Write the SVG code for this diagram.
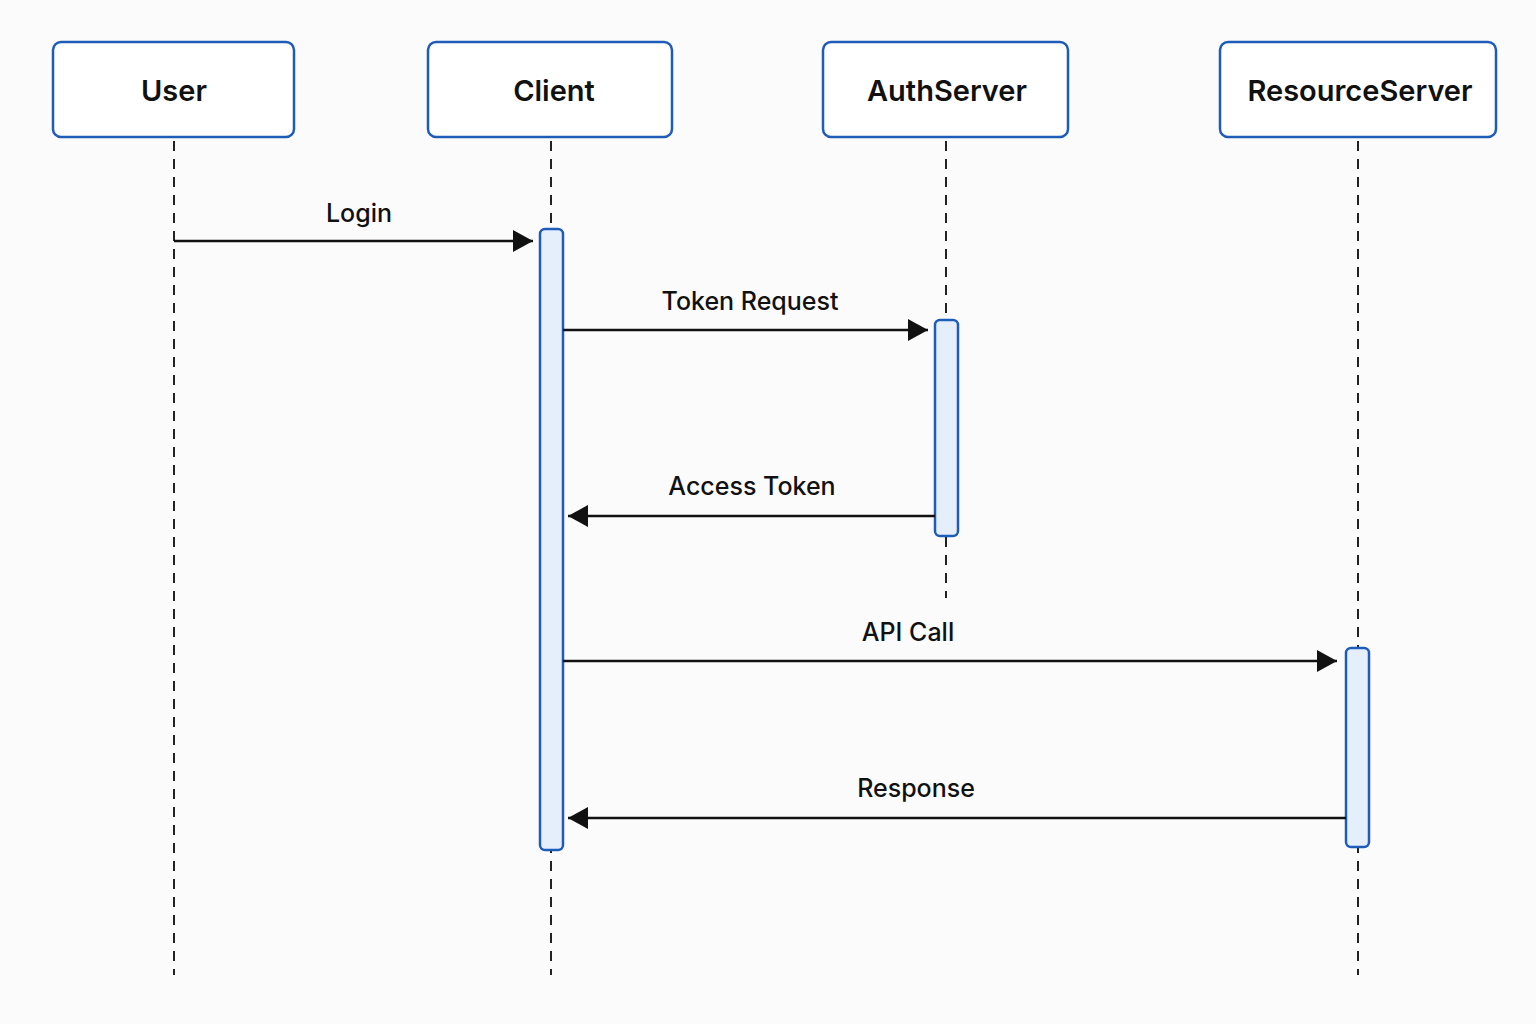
<svg xmlns="http://www.w3.org/2000/svg" width="1536" height="1024" viewBox="0 0 1536 1024">
<style>
.box{fill:#ffffff;stroke:#1f5bb8;stroke-width:2.5}
.act{fill:#e5effc;stroke:#1f5bb8;stroke-width:2.5}
.life{stroke:#222;stroke-width:2;stroke-dasharray:10 8;fill:none}
.msg{stroke:#111;stroke-width:2.5;fill:none}
.ttl{font-family:Inter,"Liberation Sans",sans-serif;font-size:29px;font-weight:600;fill:#111;text-anchor:middle}
.lbl{font-family:Inter,"Liberation Sans",sans-serif;font-size:25px;font-weight:500;fill:#111;text-anchor:middle}
</style>
<defs>
<marker id="ah" markerWidth="22" markerHeight="24" refX="20" refY="12" orient="auto" markerUnits="userSpaceOnUse">
<path d="M0,1 L20,12 L0,23 Z" fill="#111"/>
</marker>
</defs>
<rect width="1536" height="1024" fill="#fbfbfb"/>
<g id="lifelines">
<line class="life" x1="174" y1="141" x2="174" y2="975"/>
<line class="life" x1="551" y1="141" x2="551" y2="975"/>
<line class="life" x1="946" y1="141" x2="946" y2="598"/>
<line class="life" x1="1358" y1="141" x2="1358" y2="975"/>
</g>
<g id="user"><rect class="box" x="53" y="42" width="241" height="95" rx="8"/><text class="ttl" x="174" y="101">User</text></g>
<g id="client"><rect class="box" x="428" y="42" width="244" height="95" rx="8"/><text class="ttl" x="554" y="101">Client</text></g>
<g id="authserver"><rect class="box" x="823" y="42" width="245" height="95" rx="8"/><text class="ttl" x="947" y="101">AuthServer</text></g>
<g id="resourceserver"><rect class="box" x="1220" y="42" width="276" height="95" rx="8"/><text class="ttl" x="1360" y="101">ResourceServer</text></g>
<g id="activations">
<rect class="act" x="540" y="229" width="23" height="621" rx="5"/>
<rect class="act" x="935" y="320" width="23" height="216" rx="5"/>
<rect class="act" x="1346" y="648" width="23" height="199" rx="5"/>
</g>
<g id="connectors">
<line class="msg" x1="174" y1="241" x2="533" y2="241" marker-end="url(#ah)"/>
<line class="msg" x1="563" y1="330" x2="928" y2="330" marker-end="url(#ah)"/>
<line class="msg" x1="935" y1="516" x2="568" y2="516" marker-end="url(#ah)"/>
<line class="msg" x1="563" y1="661" x2="1337" y2="661" marker-end="url(#ah)"/>
<line class="msg" x1="1346" y1="818" x2="568" y2="818" marker-end="url(#ah)"/>
</g>
<g id="labels">
<text class="lbl" x="359" y="222">Login</text>
<text class="lbl" x="750" y="310">Token Request</text>
<text class="lbl" x="752" y="495">Access Token</text>
<text class="lbl" x="908" y="641">API Call</text>
<text class="lbl" x="916" y="797">Response</text>
</g>
</svg>
